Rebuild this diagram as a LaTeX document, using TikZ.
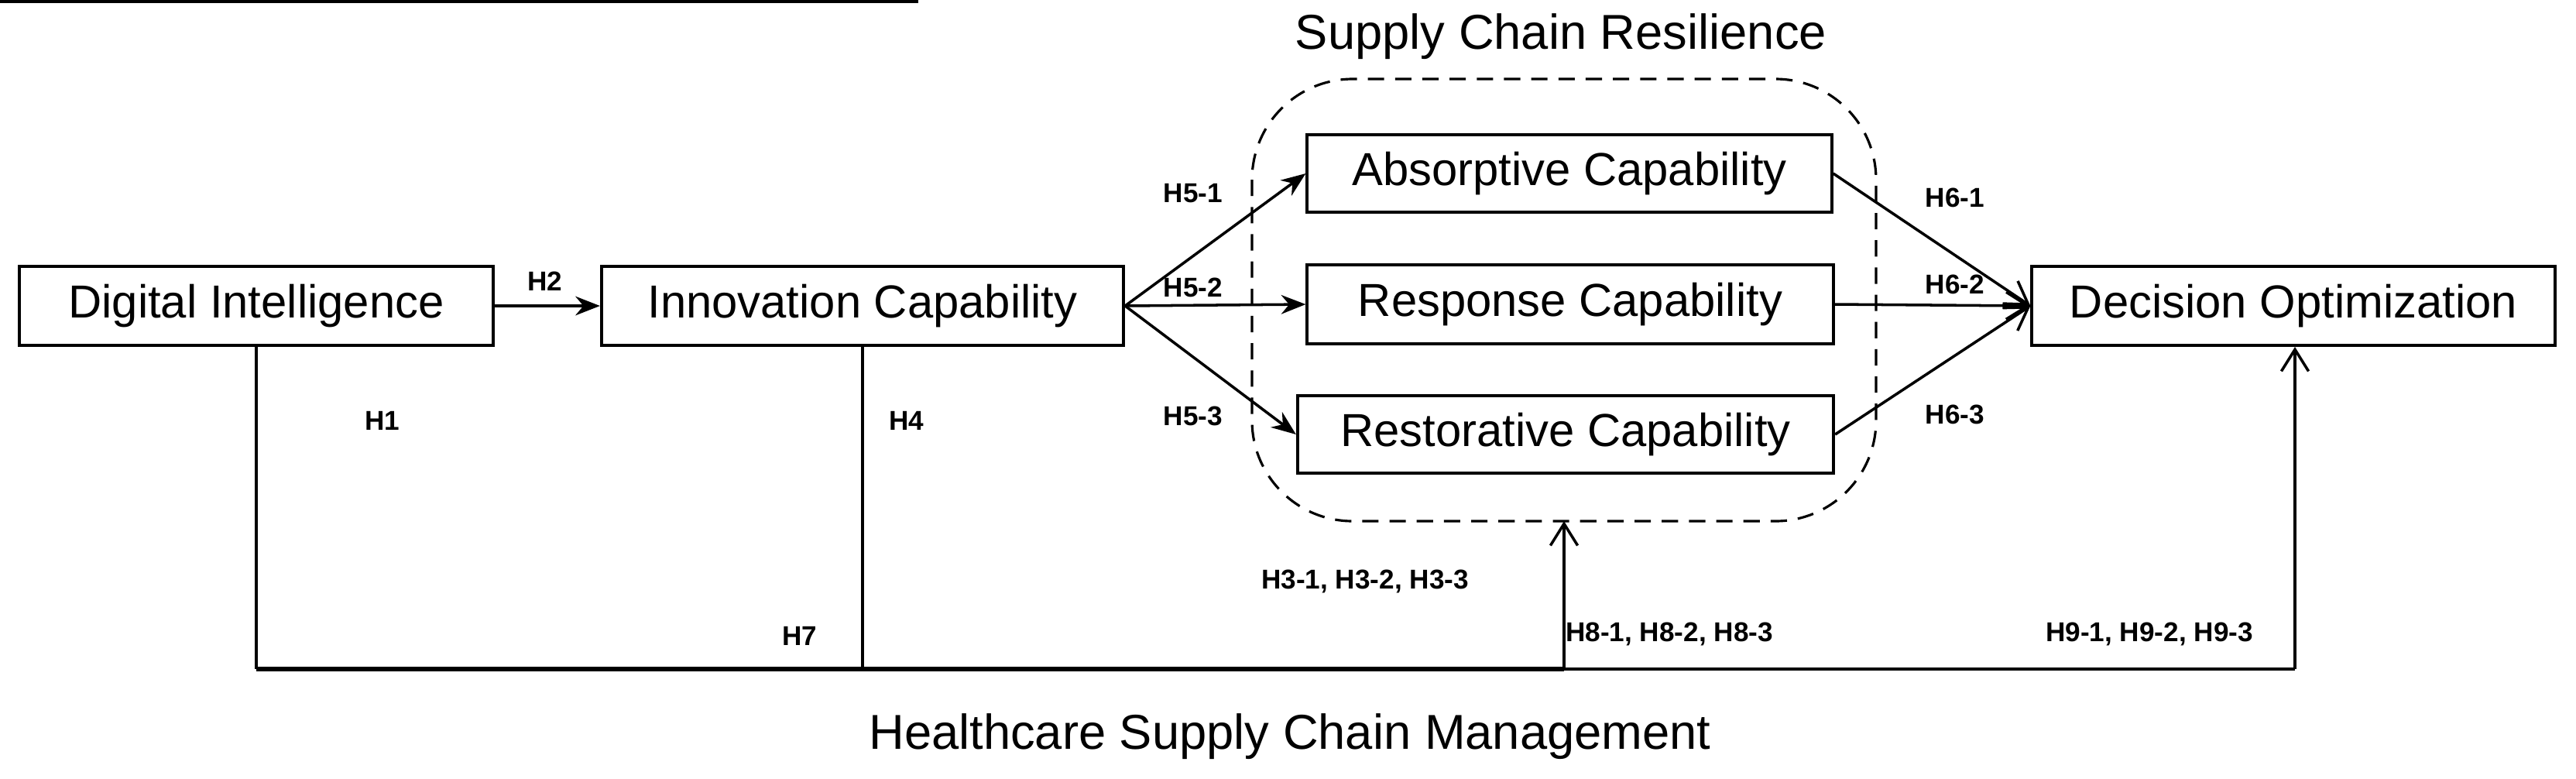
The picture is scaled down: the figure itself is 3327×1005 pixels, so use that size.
\documentclass[tikz,border=0pt]{standalone}
\usepackage{fontspec}
\setmainfont{Liberation Sans}
\usetikzlibrary{arrows.meta}
\begin{document}
\begin{tikzpicture}[x=0.01cm,y=-0.01cm,
  box/.style={draw,line width=1.1pt,inner sep=0pt,font=\fontsize{17}{20}\selectfont},
  lab/.style={font=\bfseries\fontsize{10}{12}\selectfont,inner sep=1pt},
  big/.style={font=\fontsize{18}{21}\selectfont,inner sep=0pt},
  fa/.style={-{Stealth[length=9pt,width=7pt]},line width=1pt},
  oa/.style={-{Straight Barb[length=8pt,width=10pt]},line width=1pt}]
\useasboundingbox (0,0) rectangle (3327,1005);
\node[box,minimum width=612\pgflinewidth] at (0,0) {};
\node[box,minimum width=6.12cm,minimum height=1.02cm] (di) at (331,395) {Digital Intelligence};
\node[box,minimum width=6.74cm,minimum height=1.02cm] (ic) at (1114,395) {Innovation Capability};
\node[box,minimum width=6.77cm,minimum height=1.0cm] (ab) at (2027,224) {Absorptive Capability};
\node[box,minimum width=6.79cm,minimum height=1.02cm] (re) at (2028,393) {Response Capability};
\node[box,minimum width=6.92cm,minimum height=1.0cm] (rs) at (2022,561) {Restorative Capability};
\node[box,minimum width=6.75cm,minimum height=1.02cm] (do) at (2962,395) {Decision Optimization};
\draw[dashed,line width=0.9pt,rounded corners=1.3cm,dash pattern=on 6pt off 4pt] (1617,102) rectangle (2423,673);
\coordinate (sb) at (2020,673);
\node[big] (t1) at (2016,47) {Supply Chain Resilience};
\node[big] (t2) at (1666,951) {Healthcare Supply Chain Management};
% connectors
\draw[fa] (di.east) -- (ic.west);
\draw[fa] (ic.east) -- (ab.west);
\draw[fa] (ic.east) -- (re.west);
\draw[fa] (ic.east) -- (rs.west);
\draw[oa] (ab.east) -- (do.west);
\draw[oa] (re.east) -- (do.west);
\draw[oa] (rs.east) -- (do.west);
\coordinate (bl) at (331,864);
\coordinate (bm) at (1114,864);
\coordinate (bs) at (2020,864);
\coordinate (br) at (2964,864);
\draw[line width=1pt] (di.south) -- (bl);
\draw[line width=1pt] (ic.south) -- (bm);
\draw[line width=1.6pt] (bl) -- (bs);
\draw[line width=1.3pt] (bs) -- (br);
\draw[oa] (bs) -- (sb);
\draw[oa] (br) -- (br |- do.south);
% labels
\node[lab] at (704,363) {H2};
\node[lab] at (494,543) {H1};
\node[lab] at (1171,543) {H4};
\node[lab] at (1033,821) {H7};
\node[lab] at (1541,250) {H5-1};
\node[lab] at (1541,371) {H5-2};
\node[lab] at (1541,537) {H5-3};
\node[lab] at (2525,255) {H6-1};
\node[lab] at (2525,367) {H6-2};
\node[lab] at (2525,535) {H6-3};
\node[lab] at (1763,751) {H3-1, H3-2, H3-3};
\node[lab] at (2156,819) {H8-1, H8-2, H8-3};
\node[lab] at (2776,819) {H9-1, H9-2, H9-3};
\end{tikzpicture}
\end{document}
